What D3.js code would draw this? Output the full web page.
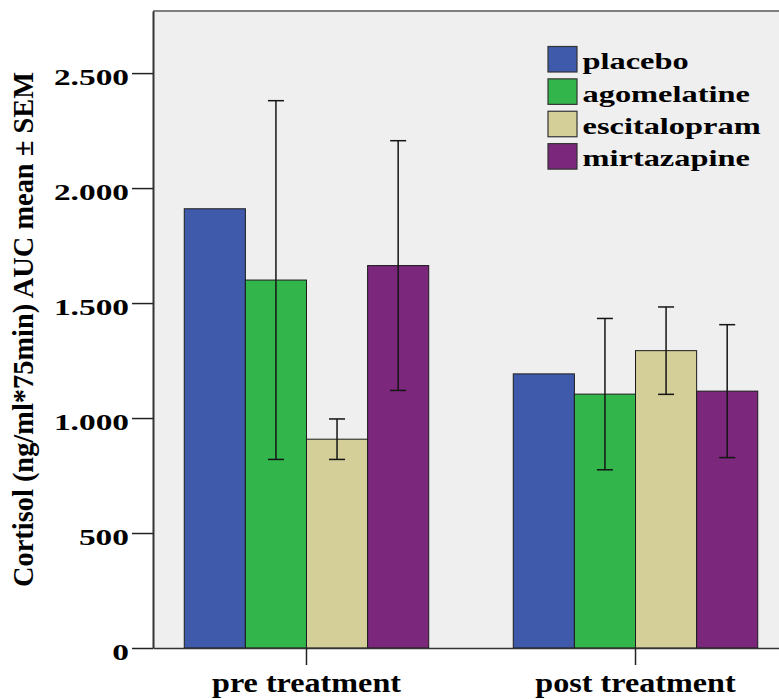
<!DOCTYPE html>
<html>
<head>
<meta charset="utf-8">
<script src="https://cdn.jsdelivr.net/npm/d3@7"></script>
<style>
  html, body { margin: 0; padding: 0; background: #fff; }
  svg { display: block; }
  text { font-family: "Liberation Serif", "Times New Roman", serif; font-weight: bold; fill: #000; }
</style>
</head>
<body>
<svg id="chart" width="779" height="699"></svg>
<script>
// Cortisol AUC by timepoint and treatment arm (mean ± SEM)
const groups = ["pre treatment", "post treatment"];
const series = ["placebo", "agomelatine", "escitalopram", "mirtazapine"];
const preMeans  = [1910, 1600, 908, 1663];
const preSEM    = [0, 780, 88, 543];
const postMeans = [1192, 1104, 1293, 1117];
const postSEM   = [0, 329, 190, 289];
const yTickValues = [0, 500, 1000, 1500, 2000, 2500];
const yTickLabels = ["0", "500", "1.000", "1.500", "2.000", "2.500"];
const colors = ["#3F5AAB", "#32B54A", "#D4CF99", "#7B277B"];
const yTitle = "Cortisol (ng/ml*75min) AUC mean ± SEM";

const means = [preMeans, postMeans];
const sems = [preSEM, postSEM];
const rows = [];
groups.forEach((g, gi) => series.forEach((s, si) => rows.push({
  group: g, series: s, mean: means[gi][si], sem: sems[gi][si], color: colors[si]
})));

const svg = d3.select("#chart");
const plot = { left: 153, top: 11, bottom: 648, right: 789 };

const y = d3.scaleLinear().domain([0, 2770]).range([plot.bottom, plot.top]);
const x0 = d3.scaleBand().domain(groups)
  .range([plot.left, plot.right]).paddingInner(0.257).paddingOuter(0.095);
const x1 = d3.scaleBand().domain(series).range([0, x0.bandwidth()]).padding(0);

// plot background
svg.append("rect")
  .attr("x", plot.left).attr("y", plot.top)
  .attr("width", plot.right - plot.left).attr("height", plot.bottom - plot.top)
  .attr("fill", "#EFEFEF");

// top frame line
svg.append("line")
  .attr("x1", plot.left).attr("x2", plot.right)
  .attr("y1", plot.top).attr("y2", plot.top)
  .attr("stroke", "#7f7f7f").attr("stroke-width", 2);

// bars
svg.append("g").selectAll("rect").data(rows).join("rect")
  .attr("x", d => x0(d.group) + x1(d.series))
  .attr("y", d => y(d.mean))
  .attr("width", x1.bandwidth())
  .attr("height", d => y(0) - y(d.mean))
  .attr("fill", d => d.color)
  .attr("stroke", "#1c1c1c").attr("stroke-width", 1);

// error bars
const eb = svg.append("g").attr("stroke", "#151515").attr("stroke-width", 1.5);
const capHalf = 8;
rows.filter(d => d.sem > 0).forEach(d => {
  const cx = x0(d.group) + x1(d.series) + x1.bandwidth() / 2;
  const lo = y(d.mean - d.sem), hi = y(d.mean + d.sem);
  eb.append("line").attr("x1", cx).attr("x2", cx).attr("y1", lo).attr("y2", hi);
  eb.append("line").attr("x1", cx - capHalf).attr("x2", cx + capHalf).attr("y1", lo).attr("y2", lo);
  eb.append("line").attr("x1", cx - capHalf).attr("x2", cx + capHalf).attr("y1", hi).attr("y2", hi);
});

// y axis
const yAxis = svg.append("g")
  .attr("transform", `translate(${plot.left},0)`)
  .call(d3.axisLeft(y).tickValues(yTickValues)
    .tickFormat((d, i) => yTickLabels[i]).tickSize(21).tickSizeOuter(0));
yAxis.select(".domain").attr("stroke", "#333").attr("stroke-width", 2);
yAxis.selectAll(".tick line").attr("stroke", "#222").attr("stroke-width", 1.5);
yAxis.selectAll(".tick text")
  .attr("x", null).attr("dy", null)
  .attr("transform", "translate(-24,11.5) scale(1.42,1)")
  .attr("text-anchor", "end")
  .style("font-size", "23.5px");

// x axis
const xAxis = svg.append("g")
  .attr("transform", `translate(0,${plot.bottom})`)
  .call(d3.axisBottom(x0).tickSize(17).tickSizeOuter(0));
xAxis.select(".domain").attr("stroke", "#333").attr("stroke-width", 1.5);
xAxis.selectAll(".tick line").attr("stroke", "#222").attr("stroke-width", 1.5);
xAxis.selectAll(".tick text")
  .attr("y", null).attr("dy", null)
  .attr("transform", "translate(0,44) scale(1.17,1)")
  .attr("text-anchor", "middle")
  .style("font-size", "27.5px");

// y axis title
svg.append("text")
  .attr("transform", "translate(33,329.5) rotate(-90)")
  .attr("text-anchor", "middle")
  .attr("textLength", 515)
  .attr("lengthAdjust", "spacingAndGlyphs")
  .style("font-size", "29px")
  .text(yTitle);

// legend
const legend = svg.append("g");
const legendRowY = d3.scaleBand().domain(series).range([46.5, 176]).padding(0);
series.forEach((s, i) => {
  const top = legendRowY(s);
  legend.append("rect")
    .attr("x", 548).attr("y", top)
    .attr("width", 29).attr("height", 25.5)
    .attr("fill", colors[i]).attr("stroke", "#333").attr("stroke-width", 1.2);
  legend.append("text")
    .attr("transform", `translate(582.5,${top + 22.7}) scale(1.38,1)`)
    .style("font-size", "23.5px")
    .text(s);
});
</script>
</body>
</html>
